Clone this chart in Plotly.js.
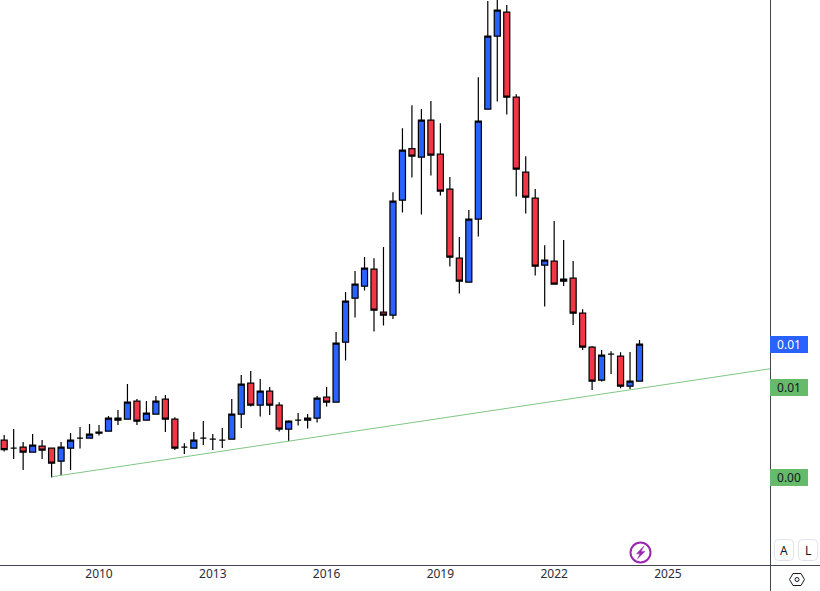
<!DOCTYPE html>
<html>
<head>
<meta charset="utf-8">
<script src="https://cdn.plot.ly/plotly-3.0.1.min.js"></script>
<style>html,body{margin:0;padding:0;background:#fff}#chart{width:820px;height:591px}</style>
</head>
<body>
<div id="chart"></div>
<script>
// Quarterly candles, values in units of 0.00001
const quarters = [2007.5,2007.75,2008,2008.25,2008.5,2008.75,2009,2009.25,2009.5,2009.75,
2010,2010.25,2010.5,2010.75,2011,2011.25,2011.5,2011.75,2012,2012.25,
2012.5,2012.75,2013,2013.25,2013.5,2013.75,2014,2014.25,2014.5,2014.75,
2015,2015.25,2015.5,2015.75,2016,2016.25,2016.5,2016.75,2017,2017.25,
2017.5,2017.75,2018,2018.25,2018.5,2018.75,2019,2019.25,2019.5,2019.75,
2020,2020.25,2020.5,2020.75,2021,2021.25,2021.5,2021.75,2022,2022.25,
2022.5,2022.75,2023,2023.25,2023.5,2023.75,2024,2024.25];
const opens = [624,584,589,564,594,584,519,584,634,634,
659,669,734,729,819,724,754,829,729,589,
584,634,629,624,629,754,909,799,869,799,
679,724,724,734,839,814,1114,1334,1394,1479,
1264,1249,1824,2082,2039,2224,2054,1879,1534,1414,
1729,2279,2644,2764,2339,1964,1834,1499,1519,1419,
1434,1259,1089,924,1054,1044,894,919];
const closes = [577,584,564,599,574,509,589,624,634,654,
664,734,724,814,719,759,819,729,584,589,
624,634,629,624,754,904,799,869,799,679,
719,724,734,834,814,1109,1319,1404,1484,1274,
1249,1819,2074,2044,2224,2049,1869,1539,1419,1729,
2219,2644,2774,2339,1979,1839,1494,1524,1404,1429,
1259,1089,919,1049,1054,894,919,1104];
const highs = [650,680,615,655,625,584,615,660,690,705,
700,745,775,905,830,820,845,850,739,609,
665,720,655,685,830,950,970,930,890,814,
724,760,755,845,890,1165,1365,1470,1540,1534,
1590,1864,2184,2299,2280,2320,2209,1940,1640,1775,
2439,2820,2850,2800,2354,2044,1880,1599,1720,1625,
1520,1279,1095,1075,1069,1064,1065,1125];
const lows = [567,530,475,564,530,437,450,475,582,634,
647,669,700,729,700,724,754,665,575,555,
584,600,575,585,629,685,792,742,750,667,
620,697,682,712,792,814,1022,1237,1372,1167,
1197,1230,1762,1937,1752,1947,1847,1492,1357,1414,
1642,2279,2317,2252,1842,1757,1447,1292,1404,1395,
1200,1075,875,917,955,884,880,919];
const trendX = [2008.75, 2027.69];
const trendY = [441, 981];
const tickYears = [2010,2013,2016,2019,2022,2025];
const tickLabels = ["2010","2013","2016","2019","2022","2025"];
const priceLabelValues = [1104, 890, 440];
const priceLabelTexts = ["0.01","0.01","0.00"];
const priceLabelFills = ["#2962ff","#66bb6a","#66bb6a"];
const priceLabelInks = ["#ffffff","#131722","#131722"];

const scale = v => v / 100000;
const W = 770, H = 565;
const px = x => x / W;
const py = y => (H - y) / H;
const paperPath = pts => pts.map((p,i)=>(i?'L':'M')+px(p[0])+','+py(p[1])).join(' ')+' Z';
function roundRect(x0,y0,x1,y1,r){
  const X=px, Y=py;
  return `M${X(x0+r)},${Y(y0)} L${X(x1-r)},${Y(y0)} Q${X(x1)},${Y(y0)} ${X(x1)},${Y(y0+r)} L${X(x1)},${Y(y1-r)} Q${X(x1)},${Y(y1)} ${X(x1-r)},${Y(y1)} L${X(x0+r)},${Y(y1)} Q${X(x0)},${Y(y1)} ${X(x0)},${Y(y1-r)} L${X(x0)},${Y(y0+r)} Q${X(x0)},${Y(y0)} ${X(x0+r)},${Y(y0)} Z`;
}
const paperShape = o => Object.assign({type:'path',xref:'paper',yref:'paper'},o);

const candles = {
  type:'candlestick', x:quarters,
  open:opens.map(scale), high:highs.map(scale), low:lows.map(scale), close:closes.map(scale),
  whiskerwidth:0,
  increasing:{line:{color:'#000000',width:1.2},fillcolor:'#2962ff'},
  decreasing:{line:{color:'#000000',width:1.2},fillcolor:'#f23645'},
  hoverinfo:'skip', showlegend:false
};
const trend = {
  type:'scatter', mode:'lines', x:trendX, y:trendY.map(scale),
  line:{color:'#81c784',width:1}, hoverinfo:'skip', showlegend:false
};
const borderColor = '#434651';
const shapes = [
  {type:'line',xref:'paper',yref:'paper',x0:0,x1:820/W,y0:py(565.5),y1:py(565.5),line:{color:borderColor,width:1}},
  {type:'line',xref:'paper',yref:'paper',x0:px(770.5),x1:px(770.5),y0:py(0),y1:py(591),line:{color:borderColor,width:1}},
  paperShape({path:roundRect(774.5,539.5,793.5,560.5,4),line:{color:'#e0e3eb',width:1},fillcolor:'#ffffff'}),
  paperShape({path:roundRect(798.5,539.5,817.5,560.5,4),line:{color:'#e0e3eb',width:1},fillcolor:'#ffffff'}),
  {type:'circle',xref:'paper',yref:'paper',x0:px(630.5),x1:px(650.5),y0:py(542.5),y1:py(562.5),line:{color:'#9c27b0',width:2},fillcolor:'rgba(0,0,0,0)'},
  paperShape({path:paperPath([[644,546],[636.5,553.8],[640,553.8],[637.5,558.8],[645,551.4],[641,551.4]]),line:{color:'#9c27b0',width:0.5},fillcolor:'#9c27b0'}),
  paperShape({path:paperPath([[789.5,579.5],[793,573.5],[801,573.5],[804.5,579.5],[801,585.5],[793,585.5]]),line:{color:'#131722',width:1},fillcolor:'rgba(0,0,0,0)'}),
  {type:'circle',xref:'paper',yref:'paper',x0:px(795),x1:px(799),y0:py(577.5),y1:py(581.5),line:{color:'#131722',width:1},fillcolor:'rgba(0,0,0,0)'}
];
const annotations = priceLabelTexts.map((t,i)=>({
  xref:'paper',yref:'y',x:1,y:scale(priceLabelValues[i]),xanchor:'left',yanchor:'middle',
  text:t,showarrow:false,width:38,height:17,align:'center',valign:'middle',borderpad:0,borderwidth:0,
  bgcolor:priceLabelFills[i],font:{family:'Noto Sans, sans-serif',size:12,color:priceLabelInks[i]}
}));
['A','L'].forEach((t,i)=>annotations.push({
  xref:'paper',yref:'paper',x:px(784+i*24),y:py(550),xanchor:'center',yanchor:'middle',
  text:t,showarrow:false,font:{family:'Noto Sans, sans-serif',size:12,color:'#131722'}
}));

Plotly.newPlot('chart',[candles,trend],{
  width:820,height:591,
  margin:{l:0,r:50,t:0,b:26,pad:0},
  paper_bgcolor:'#ffffff',plot_bgcolor:'#ffffff',
  showlegend:false,
  boxgap:0.36,boxgroupgap:0,
  xaxis:{type:'linear',range:[2007.39,2027.69],tickmode:'array',tickvals:tickYears,ticktext:tickLabels,
    showgrid:false,zeroline:false,showline:false,ticks:'',
    tickfont:{family:'Noto Sans, sans-serif',size:12,color:'#2a2e39'},rangeslider:{visible:false},fixedrange:true},
  yaxis:{type:'linear',range:[0,scale(2825)],showgrid:false,zeroline:false,showline:false,ticks:'',showticklabels:false,fixedrange:true},
  shapes:shapes,annotations:annotations,hovermode:false
},{displayModeBar:false,staticPlot:true});
</script>
</body>
</html>
